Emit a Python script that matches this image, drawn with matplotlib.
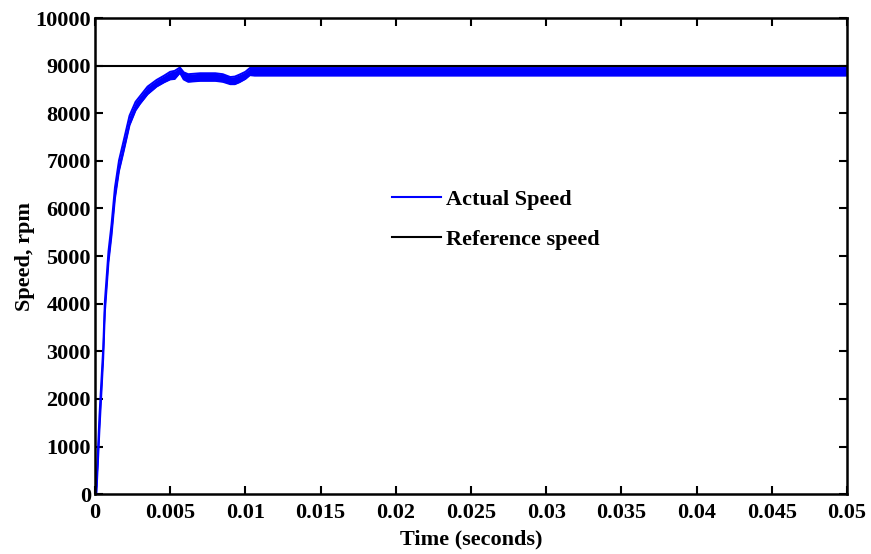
import matplotlib
matplotlib.use("Agg")
import matplotlib.pyplot as plt
import numpy as np

# time (s) and envelope of the actual speed (rpm)
t_ms = [0, 0.1, 0.3, 0.55, 0.66, 0.9, 1.1, 1.33, 1.6, 1.9, 2.3, 2.7, 3.0, 3.5,
        4.1, 4.6, 5.0, 5.3, 5.65, 5.9, 6.2, 7.0, 8.0, 8.5, 9.0, 9.3, 9.6, 10.0,
        10.3, 10.6, 11.0, 12.0, 15.0, 20.0, 30.0, 40.0, 50.0]
speed_lo = [0, 20, 1350, 2850, 3820, 4870, 5430, 6210, 6790, 7190, 7750, 8060,
            8200, 8400, 8560, 8650, 8710, 8720, 8850, 8710, 8660, 8680, 8680,
            8660, 8610, 8610, 8650, 8720, 8800, 8790, 8790, 8790, 8790, 8790,
            8790, 8790, 8790]
speed_hi = [0, 180, 1650, 3070, 4050, 5100, 5660, 6440, 7010, 7410, 7950, 8240,
            8360, 8560, 8700, 8790, 8870, 8890, 8960, 8860, 8820, 8840, 8840,
            8820, 8760, 8770, 8810, 8870, 8950, 8950, 8950, 8950, 8950, 8950,
            8950, 8950, 8950]
t_ref = [0, 0.05]
speed_ref = [9000, 9000]

plt.rcParams['font.family'] = ['Liberation Serif', 'DejaVu Serif']
plt.rcParams['font.weight'] = 'bold'

t = np.array(t_ms) / 1000.0
fig = plt.figure(figsize=(8.71, 5.54), dpi=100)
ax = fig.add_axes([0.109, 0.108, 0.8635, 0.8595])

ax.fill_between(t, speed_lo, speed_hi, color='#0000ff', lw=0)
ax.plot(t, speed_lo, color='#0000ff', lw=1.4)
ax.plot(t, speed_hi, color='#0000ff', lw=1.4)
ax.plot([], [], color='#0000ff', lw=1.5, label='Actual Speed')
ax.plot(t_ref, speed_ref, color='black', lw=1.5, label='Reference speed')

ax.set_xlim(0, 0.05)
ax.set_ylim(0, 10000)
ax.set_xticks(np.arange(0, 0.0501, 0.005))
ax.set_xticklabels(['0', '0.005', '0.01', '0.015', '0.02', '0.025', '0.03',
                    '0.035', '0.04', '0.045', '0.05'])
ax.set_yticks(np.arange(0, 10001, 1000))
ax.tick_params(direction='in', length=6, width=1.5, top=True, right=True,
               labelsize=16)
ax.tick_params(axis='x', pad=6)
ax.tick_params(axis='y', pad=3)
for s in ax.spines.values():
    s.set_linewidth(1.8)

ax.set_xlabel('Time (seconds)', fontsize=16, fontweight='bold', labelpad=5)
ax.set_ylabel('Speed, rpm', fontsize=16, fontweight='bold', labelpad=0)

leg = ax.legend(loc='upper left', bbox_to_anchor=(0.395, 0.641), frameon=False,
                prop={'size': 16, 'weight': 'bold'}, handlelength=2.2,
                handletextpad=0.25, labelspacing=0.9, borderpad=0,
                borderaxespad=0)

fig.savefig('out.png', dpi=100)
